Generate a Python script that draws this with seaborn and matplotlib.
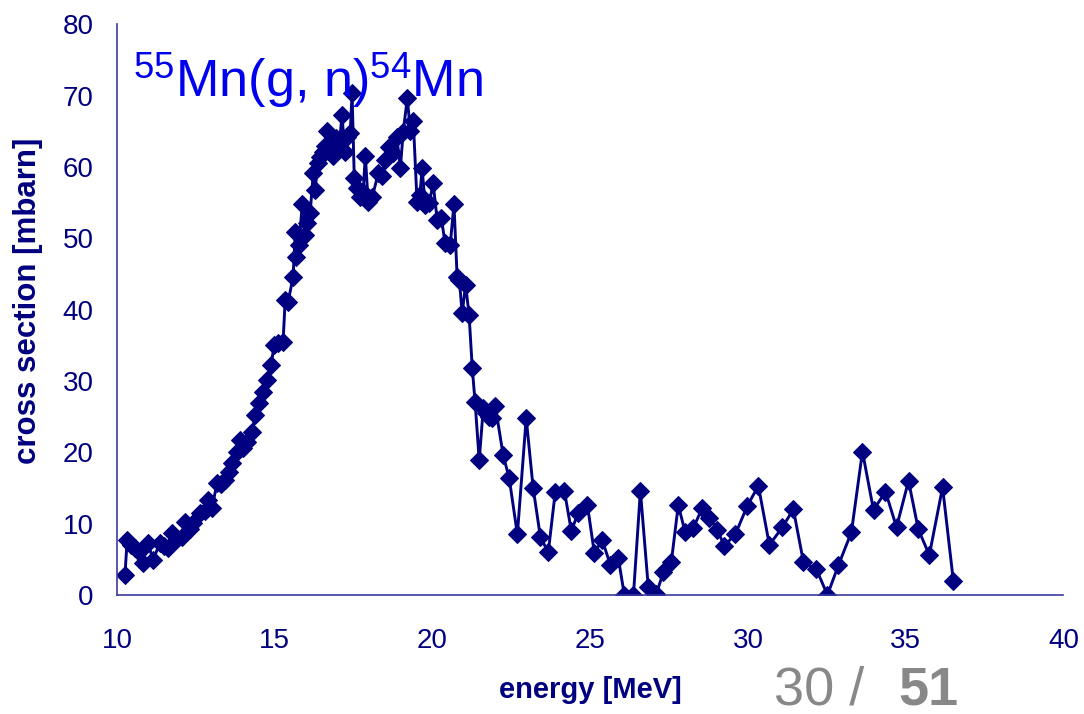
import pandas as pd
import seaborn as sns
import matplotlib.pyplot as plt

# Mn-55 (gamma, n) cross section data
energy = [10.25, 10.32, 10.45, 10.57, 10.70, 10.82, 10.98, 11.14, 11.36, 11.50,
          11.62, 11.74, 11.90, 12.06, 12.16, 12.30, 12.41, 12.63, 12.78, 12.89,
          13.01, 13.17, 13.30, 13.43, 13.55, 13.65, 13.81, 13.90, 14.00, 14.12,
          14.28, 14.38, 14.50, 14.63, 14.76, 14.88, 14.98, 15.10, 15.26, 15.33,
          15.42, 15.58, 15.65, 15.68, 15.77, 15.87, 15.95, 16.03, 16.12, 16.22,
          16.28, 16.36, 16.44, 16.52, 16.60, 16.66, 16.76, 16.85, 16.95, 17.05,
          17.13, 17.22, 17.29, 17.39, 17.45, 17.52, 17.61, 17.71, 17.80, 17.87,
          17.96, 18.09, 18.28, 18.40, 18.50, 18.62, 18.75, 18.87, 18.98, 19.07,
          19.20, 19.30, 19.39, 19.51, 19.60, 19.67, 19.77, 19.90, 20.02, 20.15,
          20.28, 20.40, 20.56, 20.68, 20.78, 20.85, 20.94, 21.05, 21.16, 21.26,
          21.35, 21.48, 21.61, 21.70, 21.80, 21.90, 21.99, 22.24, 22.43, 22.69,
          22.97, 23.19, 23.42, 23.67, 23.89, 24.18, 24.40, 24.62, 24.91, 25.13,
          25.38, 25.64, 25.89, 26.08, 26.37, 26.59, 26.84, 27.09, 27.32, 27.57,
          27.79, 28.01, 28.27, 28.55, 28.78, 29.03, 29.25, 29.60, 29.98, 30.33,
          30.68, 31.09, 31.44, 31.76, 32.17, 32.52, 32.87, 33.28, 33.63, 33.98,
          34.36, 34.71, 35.09, 35.40, 35.75, 36.17, 36.51]
cross_section = [2.8, 7.7, 7.0, 6.6, 6.0, 4.5, 7.3, 4.9, 7.3, 6.9,
                 6.6, 8.7, 7.8, 8.1, 10.2, 9.3, 10.1, 11.5, 11.8, 13.3,
                 12.2, 15.7, 15.6, 16.1, 17.2, 18.5, 20.0, 21.7, 20.6, 21.4,
                 22.8, 25.2, 26.9, 28.4, 30.1, 32.2, 35.0, 35.3, 35.4, 41.3,
                 41.0, 44.6, 50.9, 47.4, 49.0, 54.8, 50.5, 52.1, 53.5, 59.1,
                 56.7, 60.5, 61.4, 62.1, 63.0, 65.1, 63.3, 61.5, 64.0, 63.3,
                 67.3, 62.1, 64.2, 64.7, 70.3, 58.4, 57.0, 55.8, 56.5, 61.6,
                 55.1, 55.8, 59.1, 58.8, 61.0, 62.8, 61.9, 64.2, 59.8, 64.9,
                 69.6, 65.0, 66.5, 55.1, 56.0, 59.8, 54.6, 55.0, 57.7, 52.5,
                 52.8, 49.3, 49.0, 54.8, 44.6, 44.2, 39.5, 43.5, 39.2, 31.8,
                 27.0, 18.9, 26.2, 25.5, 25.0, 24.8, 26.5, 19.6, 16.4, 8.5,
                 24.8, 15.0, 8.1, 6.0, 14.4, 14.6, 9.0, 11.5, 12.6, 5.9,
                 7.7, 4.2, 5.2, 0.0, 0.0, 14.6, 1.1, 0.1, 3.2, 4.6,
                 12.6, 8.8, 9.4, 12.2, 10.8, 9.1, 6.9, 8.5, 12.5, 15.3,
                 7.0, 9.5, 12.0, 4.6, 3.6, 0.0, 4.2, 8.8, 20.1, 11.9,
                 14.5, 9.5, 16.0, 9.2, 5.6, 15.1, 2.0]
x_ticks = [10, 15, 20, 25, 30, 35, 40]
y_ticks = [0, 10, 20, 30, 40, 50, 60, 70, 80]

df = pd.DataFrame({'energy': energy, 'xs': cross_section})

sns.set_style('white')
plt.rcParams['font.family'] = ['Liberation Sans', 'DejaVu Sans']
plt.rcParams['mathtext.fontset'] = 'custom'
plt.rcParams['mathtext.rm'] = 'Liberation Sans'
plt.rcParams['mathtext.it'] = 'Liberation Sans'

navy = '#000080'
axis_col = '#3a3aa0'

fig = plt.figure(figsize=(10.84, 7.14), dpi=100)
ax = fig.add_axes([0.108, 0.1667, 0.873, 0.7993])

sns.lineplot(data=df, x='energy', y='xs', ax=ax, color=navy, marker='D',
             markersize=9, markeredgecolor=navy, linewidth=2.1,
             estimator=None, sort=False)

ax.set_xlim(10, 40)
ax.set_ylim(0, 80)
ax.set_xticks(x_ticks)
ax.set_yticks(y_ticks)
ax.tick_params(axis='both', colors=axis_col, labelcolor=navy, labelsize=20,
               length=7, width=1.2, direction='out')
ax.tick_params(axis='x', pad=17)
ax.tick_params(axis='y', pad=10)
for side in ['top', 'right']:
    ax.spines[side].set_visible(False)
for side in ['left', 'bottom']:
    ax.spines[side].set_color(axis_col)
    ax.spines[side].set_linewidth(1.2)

ax.set_xlabel('energy [MeV]', fontsize=21, fontweight='bold', color=navy)
ax.xaxis.set_label_coords(0.5, -0.142)
ax.set_ylabel('cross section [mbarn]', fontsize=22.5, fontweight='bold',
              color=navy)
ax.yaxis.set_label_coords(-0.078, 0.515)

ax.text(10.5, 69.8, r'$^{55}$Mn(g, n)$^{54}$Mn', va='baseline',
        fontsize=37.5, color='#0000ee')

# slide page number
fig.text(0.714, 0.014, '30 /', fontsize=39, color='#888888', ha='left',
         va='baseline')
fig.text(0.829, 0.014, '51', fontsize=39, color='#888888', fontweight='bold',
         ha='left', va='baseline')

fig.savefig('out.png', dpi=100)
